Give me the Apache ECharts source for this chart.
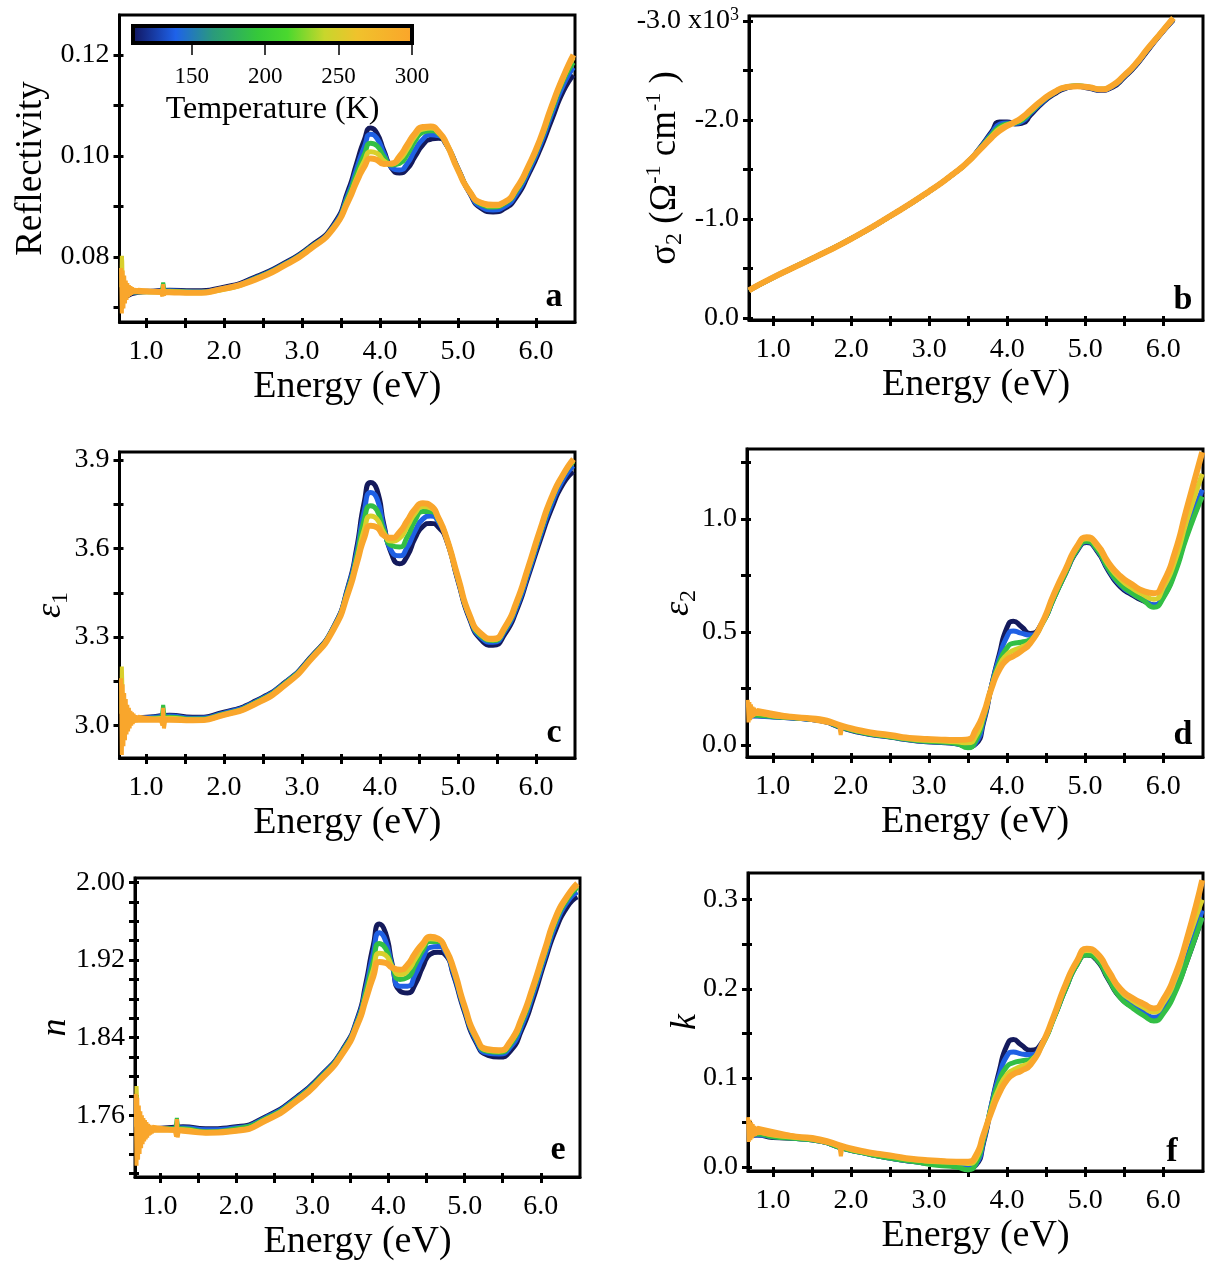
<!DOCTYPE html>
<html><head><meta charset="utf-8">
<script src="https://cdn.jsdelivr.net/npm/echarts@6.0.0/dist/echarts.min.js"></script>
<style>html,body{margin:0;padding:0;background:#fff}#c{width:1208px;height:1264px}</style>
</head><body><div id="c"></div>
<script>
// ---------------- DATA ----------------
const temperatures = [110, 150, 200, 250, 300];
const curveColors = ['#141a5c', '#1f60e4', '#33bf45', '#d9cf2c', '#f9a62c'];
const colorbarTemps = [110, 140, 165, 195, 215, 240, 262, 300];
const colorbarColors = ['#10125a', '#1e62ea', '#2a9a7c', '#35c83a', '#4ad82e', '#c8d62c', '#f0c22c', '#fba42a'];
const colorbarTickLabels = [150, 200, 250, 300];

// panels a, c, e energy grid (eV)
const energyACE = [0.75,0.9,1.1,1.3,1.6,2.0,2.4,2.8,3.1,3.4,3.6,3.7,3.8,3.88,3.96,4.05,4.15,4.25,4.35,4.45,4.55,4.65,4.75,4.85,5.0,5.15,5.3,5.45,5.6,5.75,5.9,6.05,6.2,6.35,6.48];
const noiseEnergyACE = [0.68,0.69,0.70,0.71,0.72,0.73,0.74,0.75,0.76,0.77,0.78,0.79,0.80,0.81,0.82,0.83,0.84,0.85,0.86,0.87,0.88,0.89,0.90,1.19,1.21,1.22,1.23,1.25];
const spikeEnergy250 = [0.685,0.69,0.695,0.70,0.71];
const spikeEnergy200 = [1.2,1.22,1.24];

// a: Reflectivity
const refl110 = [0.0722,0.0730,0.0732,0.0734,0.0733,0.0740,0.0760,0.0790,0.0820,0.0863,0.0935,0.0985,0.1032,0.1055,0.1045,0.1010,0.0975,0.0966,0.0975,0.0999,0.1022,0.1033,0.1035,0.1022,0.0975,0.0926,0.0896,0.0889,0.0896,0.0919,0.0962,0.1012,0.1071,0.1128,0.1160];
const refl150 = [0.0725,0.0731,0.0732,0.0733,0.0731,0.0738,0.0758,0.0788,0.0818,0.0860,0.0928,0.0975,0.1018,0.1043,0.1035,0.1005,0.0977,0.0972,0.0985,0.1012,0.1033,0.1042,0.1040,0.1023,0.0974,0.0927,0.0899,0.0893,0.0900,0.0925,0.0968,0.1020,0.1082,0.1140,0.1175];
const refl200 = [0.0728,0.0731,0.0731,0.0732,0.0730,0.0737,0.0757,0.0787,0.0817,0.0858,0.0922,0.0965,0.1003,0.1025,0.1020,0.0998,0.0982,0.0985,0.1003,0.1030,0.1047,0.1050,0.1044,0.1024,0.0973,0.0929,0.0904,0.0899,0.0906,0.0931,0.0974,0.1027,0.1090,0.1150,0.1185];
const refl250 = [0.0730,0.0732,0.0731,0.0731,0.0729,0.0736,0.0756,0.0786,0.0816,0.0857,0.0917,0.0955,0.0990,0.1008,0.1005,0.0990,0.0984,0.0993,0.1014,0.1039,0.1053,0.1055,0.1046,0.1025,0.0972,0.0929,0.0906,0.0901,0.0908,0.0934,0.0977,0.1030,0.1095,0.1155,0.1195];
const refl300 = [0.0733,0.0732,0.0731,0.0730,0.0729,0.0737,0.0755,0.0785,0.0815,0.0856,0.0913,0.0949,0.0979,0.0995,0.0992,0.0984,0.0985,0.0999,0.1022,0.1045,0.1057,0.1058,0.1048,0.1025,0.0972,0.0929,0.0907,0.0903,0.0909,0.0936,0.0979,0.1032,0.1098,0.1157,0.1200];
const reflNoise300 = [0.0778,0.0688,0.0773,0.0698,0.0763,0.0708,0.0753,0.0715,0.0748,0.0720,0.0744,0.0723,0.0742,0.0725,0.0740,0.0727,0.0738,0.0728,0.0737,0.0729,0.0736,0.0730,0.0735,0.0731,0.0722,0.0746,0.0724,0.0733];
const reflSpike250 = [0.0740,0.0802,0.0790,0.0745,0.0735];
const reflSpike200 = [0.0731,0.0749,0.0731];

// c: epsilon_1
const eps1_110 = [3.015,3.025,3.030,3.035,3.028,3.045,3.083,3.150,3.228,3.332,3.480,3.600,3.760,3.824,3.800,3.680,3.580,3.548,3.575,3.635,3.675,3.685,3.672,3.630,3.490,3.360,3.290,3.272,3.310,3.390,3.505,3.625,3.735,3.820,3.860];
const eps1_150 = [3.018,3.024,3.028,3.032,3.025,3.042,3.080,3.148,3.226,3.330,3.475,3.585,3.730,3.790,3.770,3.670,3.590,3.575,3.605,3.660,3.700,3.710,3.690,3.635,3.495,3.365,3.297,3.282,3.320,3.400,3.515,3.638,3.750,3.835,3.880];
const eps1_200 = [3.020,3.022,3.025,3.028,3.022,3.039,3.077,3.146,3.224,3.328,3.468,3.570,3.700,3.745,3.730,3.660,3.610,3.605,3.640,3.695,3.725,3.725,3.697,3.637,3.498,3.369,3.303,3.288,3.326,3.410,3.527,3.650,3.765,3.848,3.895];
const eps1_250 = [3.020,3.021,3.022,3.025,3.019,3.036,3.075,3.143,3.222,3.326,3.462,3.558,3.665,3.710,3.700,3.652,3.625,3.635,3.675,3.720,3.742,3.737,3.700,3.638,3.500,3.371,3.306,3.291,3.330,3.415,3.532,3.656,3.770,3.850,3.900];
const eps1_300 = [3.020,3.020,3.020,3.020,3.018,3.036,3.073,3.141,3.220,3.324,3.457,3.548,3.638,3.677,3.672,3.644,3.636,3.655,3.694,3.734,3.753,3.745,3.703,3.638,3.502,3.373,3.310,3.294,3.333,3.418,3.536,3.661,3.773,3.852,3.903];
const eps1Noise300 = [3.160,2.900,3.140,2.930,3.110,2.950,3.090,2.970,3.070,2.980,3.060,2.990,3.050,3.000,3.045,3.005,3.040,3.010,3.035,3.012,3.032,3.015,3.030,3.020,3.000,3.060,2.990,3.025];
const eps1Spike250 = [3.040,3.200,3.150,3.050,3.030];
const eps1Spike200 = [3.025,3.070,3.025];

// e: n
const n110 = [1.742,1.746,1.747,1.748,1.746,1.748,1.759,1.779,1.800,1.828,1.862,1.895,1.935,1.957,1.948,1.915,1.888,1.886,1.895,1.913,1.926,1.928,1.925,1.905,1.866,1.835,1.822,1.820,1.826,1.848,1.880,1.918,1.952,1.975,1.985];
const n150 = [1.743,1.745,1.746,1.747,1.745,1.747,1.758,1.778,1.799,1.827,1.860,1.890,1.927,1.948,1.940,1.913,1.893,1.893,1.905,1.922,1.933,1.934,1.928,1.907,1.868,1.837,1.824,1.823,1.830,1.852,1.885,1.922,1.957,1.980,1.990];
const n200 = [1.744,1.745,1.746,1.746,1.743,1.746,1.757,1.777,1.798,1.826,1.858,1.886,1.918,1.937,1.932,1.913,1.900,1.902,1.915,1.930,1.939,1.939,1.930,1.910,1.870,1.839,1.826,1.825,1.833,1.856,1.889,1.926,1.961,1.983,1.995];
const n250 = [1.745,1.745,1.745,1.745,1.742,1.744,1.756,1.776,1.797,1.825,1.856,1.882,1.910,1.927,1.925,1.913,1.905,1.909,1.921,1.934,1.942,1.941,1.931,1.911,1.871,1.840,1.827,1.826,1.835,1.858,1.891,1.928,1.963,1.985,1.997];
const n300 = [1.745,1.745,1.745,1.744,1.742,1.744,1.755,1.775,1.796,1.824,1.855,1.879,1.903,1.918,1.917,1.912,1.910,1.915,1.927,1.937,1.944,1.942,1.931,1.912,1.872,1.841,1.828,1.827,1.836,1.860,1.893,1.930,1.965,1.986,1.999];
const nNoise300 = [1.782,1.708,1.778,1.714,1.770,1.720,1.764,1.726,1.760,1.730,1.757,1.733,1.755,1.735,1.753,1.737,1.751,1.739,1.750,1.740,1.749,1.741,1.748,1.745,1.738,1.756,1.737,1.746];
const nSpike250 = [1.748,1.790,1.780,1.750,1.745];
const nSpike200 = [1.746,1.757,1.746];

// b: sigma_2 (x10^3 Ohm^-1 cm^-1)
const energyB = [0.69,1.0,1.5,2.0,2.5,3.0,3.3,3.5,3.65,3.8,3.9,4.0,4.1,4.2,4.3,4.45,4.6,4.75,4.9,5.05,5.2,5.35,5.5,5.65,5.8,5.95,6.13];
const sig2_110 = [-0.28,-0.41,-0.60,-0.80,-1.03,-1.28,-1.45,-1.58,-1.72,-1.88,-1.98,-1.98,-1.96,-1.97,-2.05,-2.17,-2.26,-2.32,-2.34,-2.32,-2.30,-2.33,-2.43,-2.55,-2.70,-2.85,-3.01];
const sig2_150 = [-0.28,-0.41,-0.60,-0.80,-1.03,-1.28,-1.45,-1.58,-1.715,-1.865,-1.955,-1.97,-1.965,-1.99,-2.07,-2.18,-2.27,-2.325,-2.34,-2.325,-2.305,-2.34,-2.44,-2.56,-2.71,-2.855,-3.02];
const sig2_200 = [-0.28,-0.41,-0.60,-0.80,-1.03,-1.28,-1.45,-1.58,-1.71,-1.85,-1.93,-1.96,-1.97,-2.005,-2.08,-2.19,-2.275,-2.33,-2.345,-2.33,-2.31,-2.345,-2.445,-2.565,-2.715,-2.86,-3.025];
const sig2_250 = [-0.28,-0.41,-0.60,-0.80,-1.03,-1.28,-1.45,-1.58,-1.705,-1.835,-1.91,-1.95,-1.975,-2.02,-2.09,-2.195,-2.278,-2.33,-2.342,-2.33,-2.31,-2.348,-2.448,-2.568,-2.718,-2.86,-3.028];
const sig2_300 = [-0.28,-0.41,-0.60,-0.80,-1.03,-1.28,-1.45,-1.58,-1.70,-1.82,-1.89,-1.94,-1.98,-2.03,-2.10,-2.20,-2.28,-2.33,-2.34,-2.33,-2.31,-2.35,-2.45,-2.57,-2.72,-2.86,-3.03];

// d, f energy grid
const energyDF = [0.69,0.8,1.0,1.3,1.6,1.9,2.2,2.5,2.8,3.1,3.35,3.5,3.6,3.7,3.8,3.9,4.0,4.08,4.18,4.3,4.45,4.6,4.75,4.9,5.02,5.15,5.3,5.45,5.6,5.75,5.88,6.0,6.15,6.3,6.5];
const noiseEnergyDF = [0.68,0.69,0.70,0.71,0.72,0.73,0.74,0.75,0.76,0.77,0.78,0.79,0.80,1.85,1.87,1.89];

// d: epsilon_2
const eps2_110 = [0.130,0.129,0.125,0.118,0.108,0.075,0.050,0.035,0.020,0.012,0.005,-0.005,0.005,0.100,0.260,0.400,0.520,0.548,0.525,0.493,0.540,0.650,0.760,0.860,0.896,0.860,0.770,0.700,0.665,0.637,0.620,0.655,0.770,0.930,1.120];
const eps2_150 = [0.130,0.128,0.124,0.118,0.108,0.076,0.051,0.036,0.021,0.013,0.006,-0.006,0.010,0.110,0.260,0.385,0.480,0.505,0.495,0.487,0.540,0.652,0.763,0.865,0.900,0.865,0.776,0.708,0.670,0.642,0.620,0.660,0.775,0.940,1.130];
const eps2_200 = [0.135,0.132,0.126,0.119,0.109,0.077,0.052,0.037,0.022,0.014,0.007,-0.012,0.020,0.120,0.255,0.365,0.430,0.450,0.455,0.468,0.535,0.650,0.762,0.866,0.902,0.868,0.780,0.712,0.672,0.640,0.610,0.650,0.760,0.920,1.100];
const eps2_250 = [0.140,0.140,0.130,0.121,0.112,0.080,0.055,0.040,0.026,0.019,0.014,0.010,0.040,0.130,0.252,0.350,0.400,0.418,0.432,0.458,0.538,0.662,0.773,0.876,0.913,0.880,0.797,0.735,0.695,0.665,0.645,0.695,0.815,0.990,1.200];
const eps2_300 = [0.150,0.145,0.133,0.123,0.114,0.084,0.059,0.044,0.030,0.025,0.022,0.025,0.067,0.140,0.250,0.333,0.378,0.393,0.415,0.452,0.541,0.667,0.778,0.881,0.919,0.889,0.807,0.748,0.711,0.681,0.672,0.719,0.852,1.044,1.296];
const eps2Noise300 = [0.200,0.100,0.190,0.110,0.180,0.120,0.170,0.125,0.165,0.130,0.160,0.135,0.155,0.088,0.045,0.086];

// f: k
const k110 = [0.035,0.036,0.033,0.032,0.029,0.021,0.015,0.010,0.006,0.003,0.001,-0.001,0.002,0.028,0.070,0.108,0.137,0.143,0.137,0.131,0.140,0.168,0.200,0.228,0.238,0.232,0.210,0.190,0.180,0.172,0.167,0.174,0.197,0.230,0.280];
const k150 = [0.036,0.036,0.034,0.032,0.029,0.021,0.015,0.010,0.006,0.003,0.001,-0.001,0.003,0.030,0.070,0.103,0.125,0.129,0.127,0.126,0.139,0.168,0.201,0.229,0.239,0.234,0.212,0.192,0.182,0.174,0.168,0.176,0.200,0.234,0.288];
const k200 = [0.037,0.037,0.034,0.032,0.029,0.021,0.015,0.010,0.006,0.002,0.000,-0.003,0.004,0.032,0.068,0.097,0.113,0.117,0.119,0.121,0.137,0.167,0.200,0.228,0.238,0.233,0.211,0.190,0.179,0.170,0.164,0.172,0.195,0.230,0.280];
const k250 = [0.039,0.039,0.036,0.033,0.030,0.022,0.016,0.012,0.008,0.006,0.005,0.004,0.009,0.035,0.066,0.089,0.104,0.109,0.113,0.118,0.138,0.169,0.204,0.231,0.243,0.238,0.218,0.198,0.187,0.179,0.174,0.184,0.210,0.250,0.300];
const k300 = [0.042,0.040,0.037,0.034,0.031,0.023,0.017,0.013,0.009,0.007,0.006,0.006,0.013,0.037,0.062,0.083,0.098,0.104,0.108,0.115,0.138,0.170,0.205,0.232,0.245,0.240,0.220,0.200,0.190,0.183,0.178,0.188,0.215,0.255,0.322];
const kNoise300 = [0.056,0.028,0.053,0.030,0.050,0.032,0.048,0.034,0.046,0.035,0.045,0.036,0.044,0.024,0.012,0.023];

// tick values
const energyTicks = [1.0,1.5,2.0,2.5,3.0,3.5,4.0,4.5,5.0,5.5,6.0];
const energyLabels = [1.0,2.0,3.0,4.0,5.0,6.0];
const reflTicks = [0.07,0.08,0.09,0.10,0.11,0.12];
const reflLabels = [0.08,0.10,0.12];
const sig2Ticks = [0,-0.5,-1.0,-1.5,-2.0,-2.5,-3.0];
const sig2Labels = [0,-1.0,-2.0,-3.0];
const eps1Ticks = [3.0,3.15,3.3,3.45,3.6,3.75,3.9];
const eps1Labels = [3.0,3.3,3.6,3.9];
const eps2Ticks = [0,0.25,0.5,0.75,1.0,1.25];
const eps2Labels = [0,0.5,1.0];
const nTicks = [1.70,1.72,1.74,1.76,1.78,1.80,1.82,1.84,1.86,1.88,1.90,1.92,1.94,1.96,1.98,2.00];
const nLabels = [1.76,1.84,1.92,2.00];
const kTicks = [0,0.05,0.10,0.15,0.20,0.25,0.30];
const kLabels = [0,0.1,0.2,0.3];

// ---------------- BUILD ----------------
const FONT = '"Liberation Serif", "Times New Roman", serif';
const pts = (xs, ys) => xs.map((x, i) => [x, ys[i]]);

const panels = [
  { letter:'a', grid:{left:119.5, top:15, width:455.5, height:307}, x:[0.66,6.5], y:[0.0671,0.1279],
    yTicks:reflTicks, yLabels:reflLabels, fmt:v=>v.toFixed(2),
    name:'Reflectivity', nameGap:70, letterPos:[554,297],
    E:energyACE, vals:[refl110,refl150,refl200,refl250,refl300],
    extra:{2:[spikeEnergy200,reflSpike200], 3:[spikeEnergy250,reflSpike250], 4:[noiseEnergyACE,reflNoise300]} },
  { letter:'b', grid:{left:749, top:16, width:454, height:304}, x:[0.69,6.51], y:[-3.05,0.02], inverse:true,
    yTicks:sig2Ticks, yLabels:sig2Labels,
    fmt:v=> Math.abs(v+3) < 1e-9 ? '{m|-3.0 x10}{sup|3}' : (Math.abs(v) < 1e-9 ? '0.0' : v.toFixed(1)),
    name:'{s|σ}{sb|2}{s| (Ω}{sp|-1}{s| cm}{sp|-1}{s| )}', nameGap:62, letterPos:[1183,300],
    E:energyB, vals:[sig2_110,sig2_150,sig2_200,sig2_250,sig2_300], extra:{} },
  { letter:'c', grid:{left:119.5, top:452, width:455.5, height:306}, x:[0.66,6.5], y:[2.89,3.927],
    yTicks:eps1Ticks, yLabels:eps1Labels, fmt:v=>v.toFixed(1),
    name:'{e|ε}{sb|1}', nameGap:47, letterPos:[554,733],
    E:energyACE, vals:[eps1_110,eps1_150,eps1_200,eps1_250,eps1_300],
    extra:{2:[spikeEnergy200,eps1Spike200], 3:[spikeEnergy250,eps1Spike250], 4:[noiseEnergyACE,eps1Noise300]} },
  { letter:'d', grid:{left:747, top:449, width:456, height:308}, x:[0.67,6.51], y:[-0.053,1.31],
    yTicks:eps2Ticks, yLabels:eps2Labels, fmt:v=>v.toFixed(1),
    name:'{e|ε}{sb|2}', nameGap:46, letterPos:[1183,735],
    E:energyDF, vals:[eps2_110,eps2_150,eps2_200,eps2_250,eps2_300],
    extra:{4:[noiseEnergyDF,eps2Noise300]} },
  { letter:'e', grid:{left:135, top:878, width:445, height:299}, x:[0.67,6.515], y:[1.6963,2.0045],
    yTicks:nTicks, yLabels:nLabels, fmt:v=>v.toFixed(2),
    name:'{e|n}', nameGap:57, letterPos:[558,1150],
    E:energyACE, vals:[n110,n150,n200,n250,n300],
    extra:{2:[spikeEnergy200,nSpike200], 3:[spikeEnergy250,nSpike250], 4:[noiseEnergyACE,nNoise300]} },
  { letter:'f', grid:{left:748, top:873, width:455, height:298}, x:[0.68,6.51], y:[-0.0045,0.330],
    yTicks:kTicks, yLabels:kLabels, fmt:v=>v.toFixed(1),
    name:'{e|k}', nameGap:40, letterPos:[1172,1152],
    E:energyDF, vals:[k110,k150,k200,k250,k300],
    extra:{4:[noiseEnergyDF,kNoise300]} }
];

const nameRich = {
  s:{fontFamily:FONT, fontSize:37, color:'#000', lineHeight:44},
  e:{fontFamily:FONT, fontSize:36, fontStyle:'italic', color:'#000', lineHeight:44},
  sb:{fontFamily:FONT, fontSize:24, color:'#000', lineHeight:24, verticalAlign:'bottom'},
  sp:{fontFamily:FONT, fontSize:22, color:'#000', lineHeight:16, verticalAlign:'top'}
};

const grids = [], xAxes = [], yAxes = [], series = [], graphics = [];
const innerX = [], innerY = [];
panels.forEach((p, i) => {
  grids.push(Object.assign({show:true, borderColor:'#000', borderWidth:3, backgroundColor:'transparent', containLabel:false}, p.grid));
  xAxes.push({
    gridIndex:i, type:'value', position:'bottom', min:p.x[0], max:p.x[1],
    axisLine:{show:true, onZero:false, lineStyle:{color:'#000', width:3}},
    axisTick:{show:true, customValues:energyTicks, length:6, lineStyle:{color:'#000', width:3}},
    axisLabel:{customValues:energyLabels, formatter:v=>v.toFixed(1), fontFamily:FONT, fontSize:28, color:'#000', margin:16},
    splitLine:{show:false},
    name:'Energy (eV)', nameLocation:'middle', nameGap:46, nameMoveOverlap:false,
    nameTextStyle:{fontFamily:FONT, fontSize:38, color:'#000'}
  });
  yAxes.push({
    gridIndex:i, type:'value', position:'left', min:p.y[0], max:p.y[1], inverse:!!p.inverse,
    axisLine:{show:true, onZero:false, lineStyle:{color:'#000', width:3}},
    axisTick:{show:true, customValues:p.yTicks, length:6, lineStyle:{color:'#000', width:3}},
    axisLabel:{customValues:p.yLabels, formatter:p.fmt, fontFamily:FONT, fontSize:28, color:'#000', margin:10,
      rich:{m:{fontFamily:FONT, fontSize:28, color:'#000', lineHeight:30}, sup:{fontFamily:FONT, fontSize:18, color:'#000', lineHeight:14, verticalAlign:'top'}}},
    splitLine:{show:false},
    name:p.name, nameLocation:'middle', nameGap:p.nameGap, nameMoveOverlap:false,
    nameTextStyle:{fontFamily:FONT, fontSize:37, color:'#000', rich:nameRich}
  });
  // inner halves of the tick marks
  innerX.push({gridIndex:i, type:'value', position:'bottom', min:p.x[0], max:p.x[1],
    axisLine:{show:false, onZero:false}, axisLabel:{show:false}, splitLine:{show:false},
    axisTick:{show:true, inside:true, customValues:energyTicks, length:4, lineStyle:{color:'#000', width:3}}});
  innerY.push({gridIndex:i, type:'value', position:'left', min:p.y[0], max:p.y[1], inverse:!!p.inverse,
    axisLine:{show:false, onZero:false}, axisLabel:{show:false}, splitLine:{show:false},
    axisTick:{show:true, inside:true, customValues:p.yTicks, length:4, lineStyle:{color:'#000', width:3}}});
  p.vals.forEach((ys, k) => {
    series.push({
      type:'line', name:temperatures[k] + ' K', xAxisIndex:i, yAxisIndex:i, data:pts(p.E, ys),
      showSymbol:false, symbol:'none', smooth:0.6,
      lineStyle:{color:curveColors[k], width:k === 4 ? 6 : 5}, z:2 + k,
      silent:true, animation:false
    });
    const ex = p.extra[k];
    if (ex) {
      series.push({
        type:'line', name:temperatures[k] + ' K noise', xAxisIndex:i, yAxisIndex:i, data:pts(ex[0], ex[1]),
        showSymbol:false, symbol:'none', smooth:false,
        lineStyle:{color:curveColors[k], width:4}, z:2 + k,
        silent:true, animation:false
      });
    }
  });
  graphics.push({type:'text', x:p.letterPos[0], y:p.letterPos[1], z:100,
    style:{text:p.letter, font:'bold 34px ' + FONT, fill:'#000', textAlign:'center', textVerticalAlign:'middle'}});
});

// colorbar grid (index 6)
grids.push({left:133, top:26, width:279, height:17, show:false});
xAxes.push({
  gridIndex:6, type:'value', min:colorbarTemps[0], max:colorbarTemps[colorbarTemps.length-1],
  axisLine:{show:false, onZero:false},
  axisTick:{show:true, customValues:colorbarTickLabels, length:12, lineStyle:{color:'#000', width:1.5}},
  axisLabel:{customValues:colorbarTickLabels, fontFamily:FONT, fontSize:23, color:'#000', margin:22},
  splitLine:{show:false},
  name:'Temperature (K)', nameLocation:'middle', nameGap:51, nameMoveOverlap:false,
  nameTextStyle:{fontFamily:FONT, fontSize:32, color:'#000'}
});
yAxes.push({gridIndex:6, type:'value', min:0, max:1, show:false});
innerX.forEach(a => xAxes.push(a));
innerY.forEach(a => yAxes.push(a));

const span = colorbarTemps[colorbarTemps.length-1] - colorbarTemps[0];
const cbStops = colorbarTemps.map((t, i) => ({offset:(t - colorbarTemps[0]) / span, color:colorbarColors[i]}));
series.push({
  type:'custom', xAxisIndex:6, yAxisIndex:6, silent:true, animation:false, z:20,
  data:[[colorbarTemps[0], colorbarTemps[colorbarTemps.length-1]]],
  renderItem:function(params, api){
    const cs = params.coordSys;
    const p0 = api.coord([api.value(0), 0]);
    const p1 = api.coord([api.value(1), 0]);
    return {type:'rect', shape:{x:p0[0], y:cs.y, width:p1[0]-p0[0], height:cs.height},
      style:{fill:new echarts.graphic.LinearGradient(0,0,1,0,cbStops), stroke:'#000', lineWidth:4}};
  }
});

const chart = echarts.init(document.getElementById('c'), null, {renderer:'canvas'});
chart.setOption({animation:false, backgroundColor:'#fff', grid:grids, xAxis:xAxes, yAxis:yAxes, series, graphic:graphics});
</script></body></html>
